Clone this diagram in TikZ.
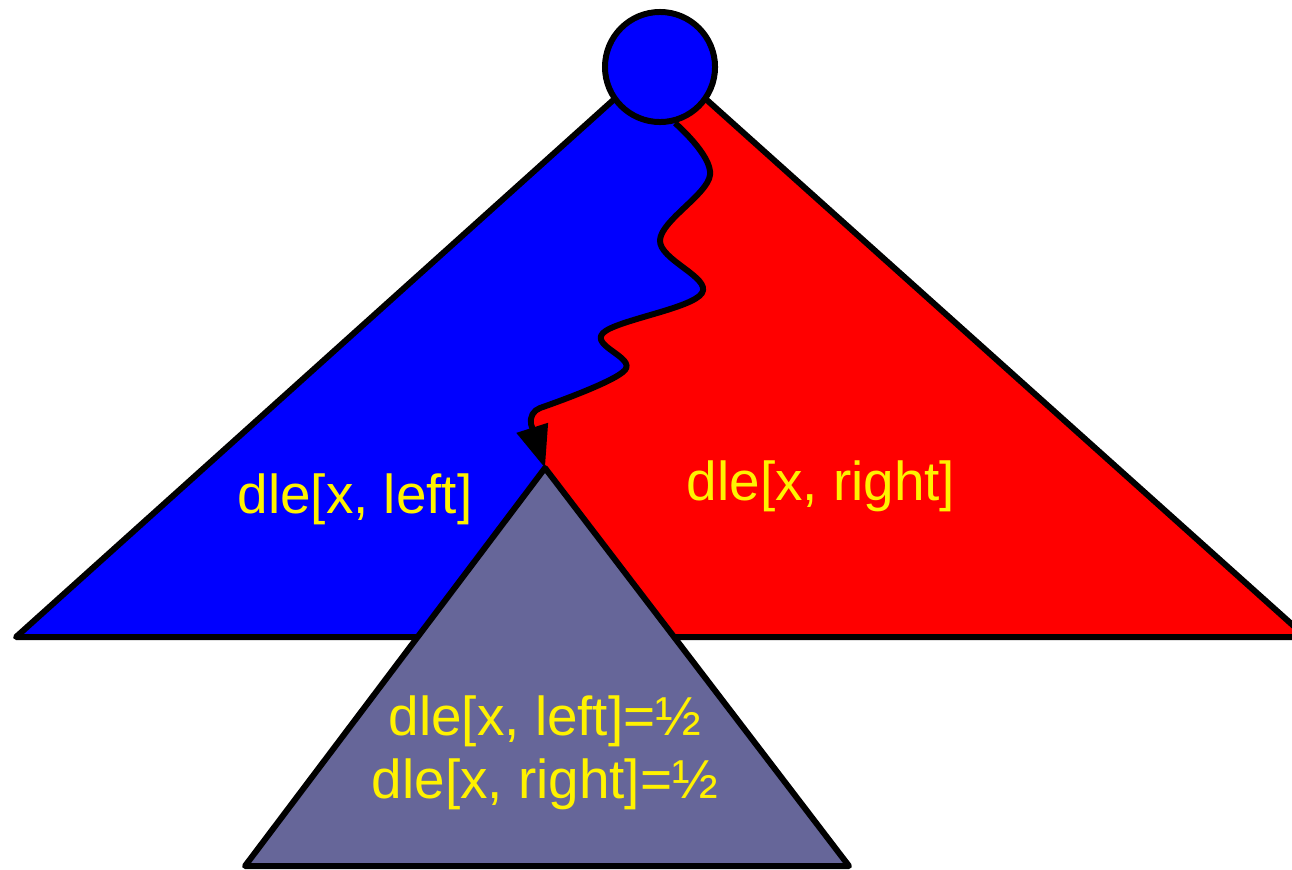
\documentclass[tikz,border=0pt]{standalone}
\usepackage{fontspec}
\setmainfont{Liberation Sans}
\usetikzlibrary{arrows.meta}
\definecolor{slate}{RGB}{102,102,153}

\tikzset{
  edge/.style={black, line width=1.7pt, line join=round},
  lbl/.style={text=yellow, font=\fontsize{15.6}{17.9}\selectfont, inner sep=0pt},
}

\begin{document}
\begin{tikzpicture}[x=0.01cm, y=-0.01cm]
\useasboundingbox (0,0) rectangle (1292,869);
\clip (0,0) rectangle (1292,869);
\coordinate (top) at (660,58);
\coordinate (bl) at (16,637);
\coordinate (br) at (1306,637);
\coordinate (split) at (545,468);
\coordinate (gl) at (245,866);
\coordinate (gr) at (849,866);

% the two halves of the tree
\fill[red] (top) -- (bl) -- (br) -- cycle;
\fill[blue] plot[smooth, tension=0.6] coordinates {(675,122) (710,175) (660,240) (702,293) (603,333) (625,370) (540,408)} to[out=200, in=100] (531,424) -- (split) -- (600,637) -- (bl) -- (top) -- cycle;
\draw[edge] (top) -- (bl) -- (br) -- cycle;
\filldraw[edge, fill=slate] (split) -- (gl) -- (gr) -- cycle;

\node[circle, draw, fill=blue, line width=1.7pt, minimum size=1.1cm, inner sep=0pt] (root) at (660,67) {};
\draw[edge, -{Triangle[width=9pt, length=12pt]}] plot[smooth, tension=0.6] coordinates {(root.-75) (710,175) (660,240) (702,293) (603,333) (625,370) (540,408)} to[out=200, in=100] (531,424) -- (split);

\node[lbl, anchor=base] (leftlbl) at (355,513) {dle[x, left]};
\node[lbl, anchor=base] (rightlbl) at (821,500) {dle[x, right]};
\node[lbl, anchor=base] (bothlbl1) at (545,735) {dle[x, left]=½};
\node[lbl, anchor=base] (bothlbl2) at (545,798) {dle[x, right]=½};
\end{tikzpicture}
\end{document}
